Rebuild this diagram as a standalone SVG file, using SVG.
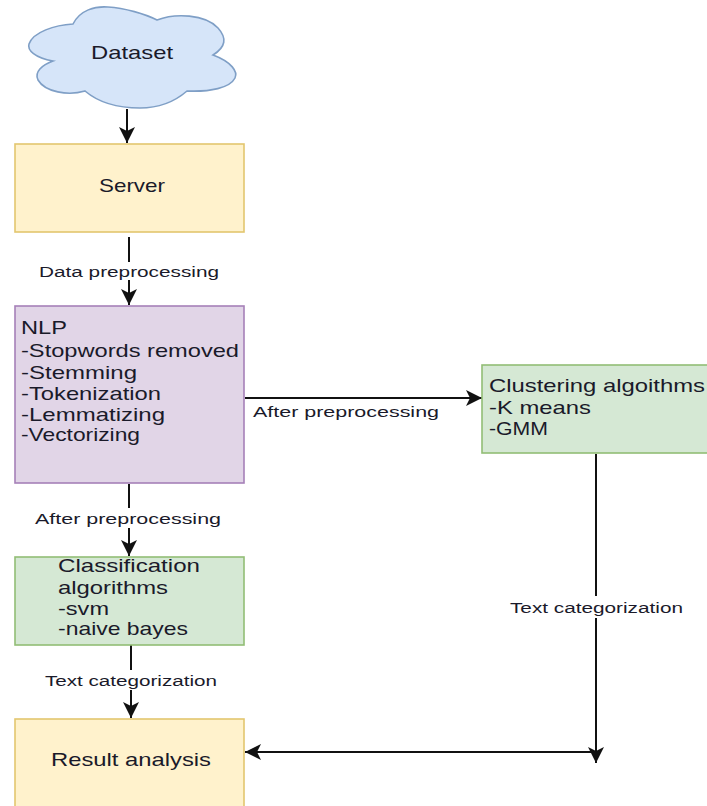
<svg xmlns="http://www.w3.org/2000/svg" width="707" height="806" viewBox="0 0 707 806">
<style>
text{font-family:"Liberation Sans",Arial,sans-serif;fill:#1a1a2a}
.n{font-size:18.5px}
.l{font-size:15.5px}
.c{fill:none;stroke:#111;stroke-width:2}
.y{fill:#fff2cc;stroke:#e3c66f;stroke-width:1.6}
.g{fill:#d5e8d4;stroke:#92bd75;stroke-width:1.6}
.p{fill:#e1d5e7;stroke:#a680b8;stroke-width:1.6}
</style>
<defs><marker id="a" markerUnits="userSpaceOnUse" markerWidth="18" markerHeight="16" refX="16" refY="8" orient="auto"><path d="M0 0L16 8L0 16L4 8Z" fill="#111"/></marker></defs>
<rect width="707" height="806" fill="#fff"/>
<g id="connectors">
<path class="c" d="M127 109V143" marker-end="url(#a)"/>
<path class="c" d="M129 237V262"/>
<path class="c" d="M129 280V305" marker-end="url(#a)"/>
<path class="c" d="M129 484V508"/>
<path class="c" d="M129 528V556" marker-end="url(#a)"/>
<path class="c" d="M131 645V670"/>
<path class="c" d="M131 690V718" marker-end="url(#a)"/>
<path class="c" d="M245 398H482" marker-end="url(#a)"/>
<path class="c" d="M596 454V596"/>
<path class="c" d="M596 618V763" marker-end="url(#a)"/>
<path class="c" d="M596 752H245" marker-end="url(#a)"/>
</g>
<g id="edge-labels">
<text class="l" x="39" y="277" textLength="180" lengthAdjust="spacingAndGlyphs">Data preprocessing</text>
<text class="l" x="253" y="417" textLength="186" lengthAdjust="spacingAndGlyphs">After preprocessing</text>
<text class="l" x="35" y="524" textLength="186" lengthAdjust="spacingAndGlyphs">After preprocessing</text>
<text class="l" x="45" y="686" textLength="172" lengthAdjust="spacingAndGlyphs">Text categorization</text>
<text class="l" x="510" y="613" textLength="173" lengthAdjust="spacingAndGlyphs">Text categorization</text>
</g>
<g id="dataset">
<path d="M73 24C80 10 95 6 108 7C125 8 145 14 157 20C175 13 205 14 218 28C227 38 226 47 213 55C232 62 238 72 235 78C230 88 210 92 187 91C172 104 155 108 140 108C118 108 98 102 85 91C68 96 45 92 38 80C34 72 42 65 53 61C35 58 27 50 29 44C33 32 55 25 73 24Z" fill="#d6e5f9" stroke="#7f9fc6" stroke-width="1.6"/>
<text class="n" x="91" y="59" textLength="82" lengthAdjust="spacingAndGlyphs">Dataset</text>
</g>
<g id="server">
<rect class="y" x="15" y="144" width="229" height="88"/>
<text class="n" x="99" y="192" textLength="66" lengthAdjust="spacingAndGlyphs">Server</text>
</g>
<g id="nlp">
<rect class="p" x="15" y="306" width="229" height="177"/>
<text class="n" x="21" y="334" textLength="46" lengthAdjust="spacingAndGlyphs">NLP</text>
<text class="n" x="21" y="357" textLength="218" lengthAdjust="spacingAndGlyphs">-Stopwords removed</text>
<text class="n" x="21" y="379" textLength="116" lengthAdjust="spacingAndGlyphs">-Stemming</text>
<text class="n" x="21" y="400" textLength="140" lengthAdjust="spacingAndGlyphs">-Tokenization</text>
<text class="n" x="21" y="421" textLength="144" lengthAdjust="spacingAndGlyphs">-Lemmatizing</text>
<text class="n" x="21" y="441" textLength="119" lengthAdjust="spacingAndGlyphs">-Vectorizing</text>
</g>
<g id="clustering">
<rect class="g" x="482" y="365" width="226" height="88"/>
<text class="n" x="489" y="392" textLength="216" lengthAdjust="spacingAndGlyphs">Clustering algoithms</text>
<text class="n" x="489" y="414" textLength="102" lengthAdjust="spacingAndGlyphs">-K means</text>
<text class="n" x="489" y="435" textLength="59" lengthAdjust="spacingAndGlyphs">-GMM</text>
</g>
<g id="classification">
<rect class="g" x="15" y="557" width="229" height="88"/>
<text class="n" x="58" y="572" textLength="142" lengthAdjust="spacingAndGlyphs">Classification</text>
<text class="n" x="58" y="594" textLength="110" lengthAdjust="spacingAndGlyphs">algorithms</text>
<text class="n" x="58" y="615" textLength="51" lengthAdjust="spacingAndGlyphs">-svm</text>
<text class="n" x="58" y="635" textLength="130" lengthAdjust="spacingAndGlyphs">-naive bayes</text>
</g>
<g id="result">
<rect class="y" x="15" y="719" width="229" height="88"/>
<text class="n" x="51" y="766" textLength="160" lengthAdjust="spacingAndGlyphs">Result analysis</text>
</g>
</svg>
